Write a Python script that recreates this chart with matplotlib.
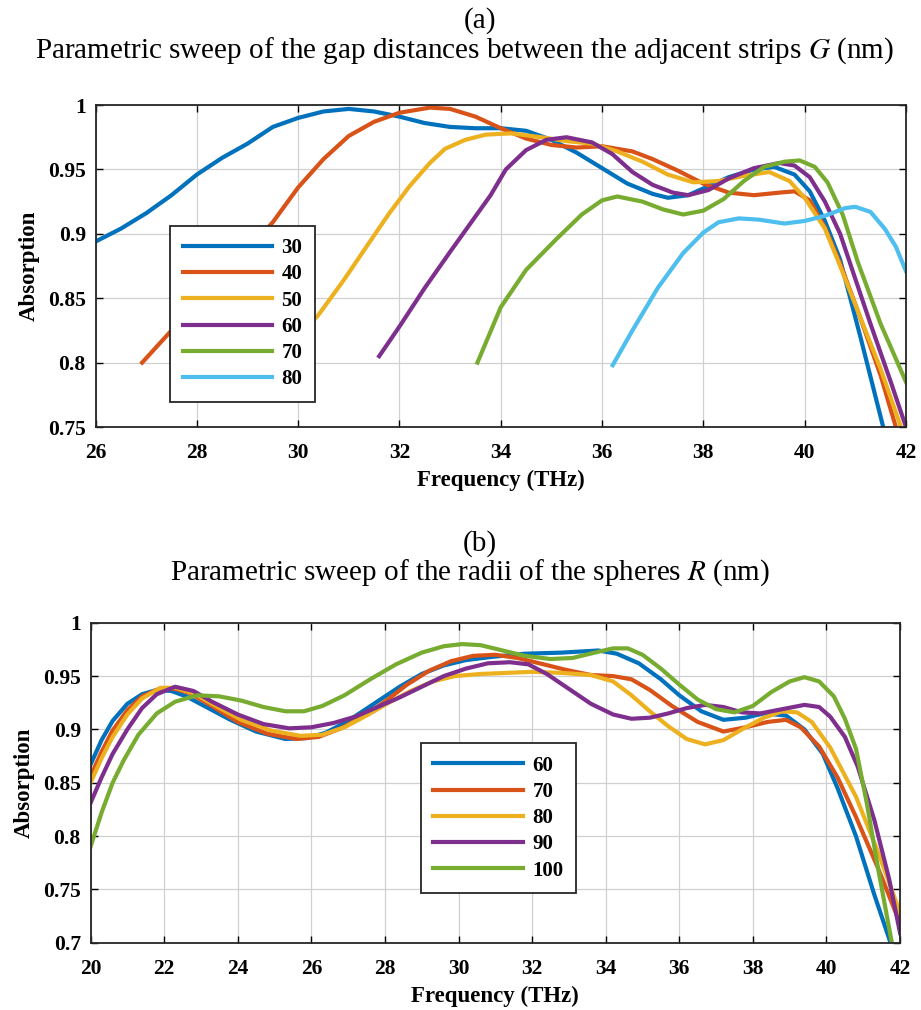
import numpy as np
import matplotlib
matplotlib.use("Agg")
import matplotlib.pyplot as plt

plt.rcParams["font.family"] = ["Liberation Serif", "DejaVu Serif"]
plt.rcParams["mathtext.fontset"] = "stix"

COLORS = ["#0072BD", "#D95319", "#EDB120", "#7E2F8E", "#77AC30", "#4DBEEE"]

# ── (a) gap distance G (nm) ─────────────────────────────────────────────────
g_labels = ["30", "40", "50", "60", "70", "80"]
g30_f = [26, 26.5, 27, 27.5, 28, 28.5, 29, 29.5, 30, 30.5, 31, 31.5, 32, 32.5, 33, 33.5, 34, 34.5,
         35, 35.5, 36, 36.5, 37, 37.3, 37.7, 38.1, 38.5, 39, 39.4, 39.8, 40.1, 40.4, 40.7, 41.1, 41.55, 41.6]
g30_a = [0.894, 0.904, 0.916, 0.930, 0.946, 0.959, 0.970, 0.983, 0.990, 0.995, 0.997, 0.995, 0.991,
         0.986, 0.983, 0.982, 0.982, 0.980, 0.973, 0.963, 0.951, 0.939, 0.931, 0.928, 0.930, 0.937,
         0.944, 0.950, 0.952, 0.946, 0.933, 0.910, 0.880, 0.82, 0.75, 0.74]
g40_f = [26.92, 27.5, 28, 28.5, 29, 29.5, 30, 30.5, 31, 31.5, 32, 32.6, 33, 33.5, 34, 34.5, 35, 35.5,
         36, 36.6, 37, 37.5, 38, 38.5, 39, 39.5, 39.8, 40.1, 40.4, 40.7, 41.05, 41.5, 41.8, 41.85]
g40_a = [0.80, 0.825, 0.846, 0.866, 0.887, 0.909, 0.936, 0.958, 0.976, 0.987, 0.994, 0.998, 0.997,
         0.991, 0.982, 0.974, 0.969, 0.967, 0.968, 0.964, 0.958, 0.949, 0.939, 0.932, 0.930, 0.932,
         0.933, 0.926, 0.905, 0.877, 0.84, 0.79, 0.75, 0.74]
g50_f = [29.5, 30, 30.4, 30.9, 31.4, 31.8, 32.2, 32.6, 32.9, 33.3, 33.7, 34.2, 34.8, 35.3, 35.8, 36.3,
         36.8, 37.3, 37.8, 38.3, 38.8, 39.3, 39.7, 40.0, 40.4, 40.7, 41.0, 41.5, 41.9, 41.95]
g50_a = [0.80, 0.82, 0.837, 0.864, 0.893, 0.916, 0.937, 0.955, 0.966, 0.973, 0.977, 0.978, 0.975,
         0.972, 0.970, 0.964, 0.956, 0.946, 0.940, 0.941, 0.945, 0.948, 0.941, 0.928, 0.904, 0.875,
         0.845, 0.795, 0.75, 0.74]
g60_f = [31.6, 32.0, 32.5, 33.0, 33.4, 33.8, 34.1, 34.5, 34.9, 35.3, 35.8, 36.2, 36.6, 37.0, 37.4,
         37.7, 38.1, 38.5, 39.0, 39.5, 39.8, 40.1, 40.4, 40.7, 41.0, 41.3, 41.7, 42.0]
g60_a = [0.805, 0.828, 0.858, 0.886, 0.908, 0.930, 0.950, 0.965, 0.973, 0.975, 0.971, 0.962, 0.948,
         0.938, 0.932, 0.930, 0.934, 0.943, 0.951, 0.955, 0.953, 0.944, 0.925, 0.900, 0.865, 0.83,
         0.785, 0.75]
g70_f = [33.54, 34.0, 34.5, 35.1, 35.6, 36.0, 36.3, 36.8, 37.2, 37.6, 38.0, 38.4, 38.8, 39.2, 39.6,
         39.9, 40.2, 40.45, 40.75, 41.05, 41.5, 42.0]
g70_a = [0.80, 0.843, 0.872, 0.896, 0.915, 0.926, 0.929, 0.925, 0.919, 0.915, 0.918, 0.927, 0.941,
         0.952, 0.956, 0.957, 0.952, 0.940, 0.915, 0.878, 0.83, 0.785]
g80_f = [36.21, 36.6, 37.1, 37.6, 38.0, 38.3, 38.7, 39.1, 39.6, 40.0, 40.4, 40.8, 41.0, 41.3, 41.58,
         41.8, 42.0]
g80_a = [0.798, 0.825, 0.858, 0.885, 0.901, 0.909, 0.912, 0.911, 0.908, 0.910, 0.914, 0.920, 0.921,
         0.917, 0.904, 0.89, 0.871]

# ── (b) sphere radius R (nm) ────────────────────────────────────────────────
r_labels = ["60", "70", "80", "90", "100"]
r60_f = [20, 20.3, 20.6, 21.0, 21.4, 21.8, 22.2, 22.6, 23.2, 23.8, 24.5, 25.3, 25.9, 26.4, 27.0, 27.7,
         28.4, 29.0, 29.6, 30.2, 30.9, 31.8, 32.8, 33.8, 34.3, 34.9, 35.5, 36.0, 36.6, 37.2, 37.8,
         38.3, 38.9, 39.4, 39.9, 40.3, 40.8, 41.3, 41.73, 41.8]
r60_a = [0.867, 0.890, 0.908, 0.924, 0.933, 0.937, 0.936, 0.931, 0.920, 0.909, 0.898, 0.891, 0.892,
         0.897, 0.908, 0.924, 0.940, 0.952, 0.960, 0.965, 0.968, 0.971, 0.972, 0.974, 0.971, 0.962,
         0.947, 0.932, 0.917, 0.909, 0.911, 0.915, 0.913, 0.900, 0.877, 0.845, 0.80, 0.745, 0.701, 0.69]
r70_f = [20, 20.3, 20.6, 21.0, 21.4, 21.9, 22.3, 22.7, 23.3, 24.0, 24.8, 25.6, 26.2, 26.8, 27.4, 28.0,
         28.6, 29.2, 29.8, 30.4, 31.0, 31.6, 32.2, 32.9, 33.6, 34.2, 34.7, 35.2, 35.8, 36.5, 37.2,
         37.8, 38.4, 38.9, 39.3, 39.8, 40.3, 40.8, 41.4, 42.0]
r70_a = [0.856, 0.879, 0.899, 0.918, 0.931, 0.9385, 0.938, 0.934, 0.922, 0.907, 0.896, 0.891, 0.893,
         0.901, 0.912, 0.926, 0.942, 0.955, 0.964, 0.969, 0.970, 0.967, 0.962, 0.956, 0.951, 0.950,
         0.947, 0.937, 0.922, 0.907, 0.898, 0.902, 0.907, 0.909, 0.902, 0.884, 0.855, 0.818, 0.77, 0.718]
r80_f = [20, 20.3, 20.6, 21.0, 21.4, 21.9, 22.3, 22.8, 23.4, 24.1, 24.9, 25.7, 26.3, 26.9, 27.5, 28.1,
         28.7, 29.3, 29.9, 30.6, 31.3, 32.0, 32.8, 33.6, 34.2, 34.7, 35.2, 35.7, 36.2, 36.7, 37.2,
         37.7, 38.3, 38.8, 39.2, 39.6, 40.1, 40.8, 41.4, 42.0]
r80_a = [0.850, 0.873, 0.893, 0.914, 0.929, 0.939, 0.939, 0.934, 0.922, 0.909, 0.899, 0.894, 0.895,
         0.902, 0.913, 0.925, 0.936, 0.945, 0.950, 0.952, 0.953, 0.954, 0.953, 0.951, 0.945, 0.932,
         0.917, 0.903, 0.891, 0.886, 0.890, 0.900, 0.911, 0.917, 0.916, 0.907, 0.883, 0.837, 0.785, 0.728]
r90_f = [20, 20.3, 20.6, 21.0, 21.4, 21.8, 22.3, 22.8, 23.3, 24.0, 24.7, 25.4, 26.0, 26.6, 27.2, 27.8,
         28.4, 29.0, 29.6, 30.2, 30.8, 31.4, 31.9, 32.4, 33.0, 33.6, 34.2, 34.7, 35.2, 35.7, 36.2,
         36.7, 37.2, 37.7, 38.2, 38.8, 39.4, 39.8, 40.1, 40.5, 40.85, 41.3, 41.7, 42.0]
r90_a = [0.831, 0.855, 0.877, 0.900, 0.920, 0.933, 0.940, 0.936, 0.926, 0.914, 0.905, 0.901, 0.902,
         0.906, 0.912, 0.921, 0.930, 0.940, 0.950, 0.957, 0.962, 0.963, 0.961, 0.952, 0.938, 0.924,
         0.914, 0.910, 0.911, 0.915, 0.920, 0.923, 0.921, 0.916, 0.915, 0.919, 0.923, 0.921, 0.912,
         0.893, 0.865, 0.815, 0.76, 0.709]
r100_f = [20, 20.3, 20.6, 20.9, 21.3, 21.8, 22.3, 22.9, 23.5, 24.1, 24.7, 25.3, 25.8, 26.3, 26.9, 27.6,
          28.3, 29.0, 29.6, 30.1, 30.6, 31.2, 31.8, 32.5, 33.1, 33.7, 34.2, 34.6, 35.0, 35.5, 36.0,
          36.5, 37.0, 37.5, 38.0, 38.5, 39.0, 39.4, 39.8, 40.2, 40.5, 40.8, 41.1, 41.4, 41.77, 41.85]
r100_a = [0.79, 0.822, 0.850, 0.871, 0.895, 0.915, 0.926, 0.932, 0.931, 0.927, 0.921, 0.917, 0.917,
          0.922, 0.932, 0.947, 0.961, 0.972, 0.978, 0.980, 0.979, 0.974, 0.969, 0.966, 0.967, 0.972,
          0.976, 0.976, 0.970, 0.957, 0.942, 0.928, 0.919, 0.916, 0.922, 0.935, 0.945, 0.949, 0.945,
          0.931, 0.91, 0.882, 0.83, 0.77, 0.701, 0.69]

g_series = [(g30_f, g30_a), (g40_f, g40_a), (g50_f, g50_a), (g60_f, g60_a), (g70_f, g70_a), (g80_f, g80_a)]
r_series = [(r60_f, r60_a), (r70_f, r70_a), (r80_f, r80_a), (r90_f, r90_a), (r100_f, r100_a)]


def style_axes(ax, xticks, yticks, ylabels):
    ax.set_xticks(xticks)
    ax.set_yticks(yticks)
    ax.set_yticklabels(ylabels)
    ax.tick_params(direction="in", top=True, right=True, length=5, width=1.0, labelsize=15.5)
    ax.tick_params(axis="y", pad=7)
    ax.tick_params(axis="x", pad=11.5)
    for lab in ax.get_xticklabels() + ax.get_yticklabels():
        lab.set_fontweight("bold")
    ax.grid(True, color="#d0d0d0", linewidth=0.9)
    ax.set_axisbelow(True)
    for sp in ax.spines.values():
        sp.set_linewidth(1.3)
        sp.set_color("#262626")
    ax.set_xlabel("Frequency (THz)", fontsize=16.5, fontweight="bold", labelpad=5)
    ax.set_ylabel("Absorption", fontsize=16.5, fontweight="bold", labelpad=6)


def add_legend(ax, anchor):
    leg = ax.legend(loc="lower left", bbox_to_anchor=anchor, fancybox=False, framealpha=1,
                    edgecolor="#262626", handlelength=4.3, handletextpad=0.45, labelspacing=0.3,
                    borderpad=0.6, borderaxespad=0, prop={"weight": "bold", "size": 15})
    leg.get_frame().set_linewidth(1.3)
    return leg


fig = plt.figure(figsize=(9.21, 10.10), dpi=100)

# ── panel (a) ─────────────────────────────────────────────────────────────────
ax1 = fig.add_axes([0.1037, 0.5772, 0.880, 0.3188])
for (f, a), lab, c in zip(g_series, g_labels, COLORS):
    ax1.plot(f, a, color=c, lw=3, label=lab, solid_joinstyle="round")
ax1.set_xlim(26, 42)
ax1.set_ylim(0.75, 1.0)
style_axes(ax1, np.arange(26, 43, 2), [0.75, 0.8, 0.85, 0.9, 0.95, 1.0],
           ["0.75", "0.8", "0.85", "0.9", "0.95", "1"])
add_legend(ax1, (0.092, 0.078))

fig.text(0.521, 0.980, "(a)", ha="center", va="center", fontsize=21)
fig.text(0.504, 0.950, "Parametric sweep of the gap distances between the adjacent strips $G$ (nm)",
         ha="center", va="center", fontsize=21)

# ── panel (b) ─────────────────────────────────────────────────────────────────
ax2 = fig.add_axes([0.0983, 0.0666, 0.879, 0.3168])
for (f, a), lab, c in zip(r_series, r_labels, COLORS):
    ax2.plot(f, a, color=c, lw=3, label=lab, solid_joinstyle="round")
ax2.set_xlim(20, 42)
ax2.set_ylim(0.7, 1.0)
style_axes(ax2, np.arange(20, 43, 2), [0.7, 0.75, 0.8, 0.85, 0.9, 0.95, 1.0],
           ["0.7", "0.75", "0.8", "0.85", "0.9", "0.95", "1"])
add_legend(ax2, (0.408, 0.155))

fig.text(0.521, 0.462, "(b)", ha="center", va="center", fontsize=21)
fig.text(0.51, 0.433, "Parametric sweep of the radii of the spheres $R$ (nm)",
         ha="center", va="center", fontsize=21)

fig.savefig("out.png", dpi=100)
